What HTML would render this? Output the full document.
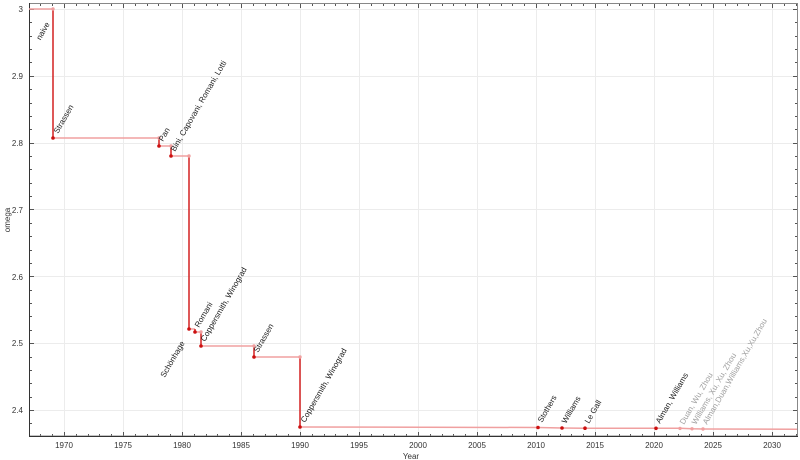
<!DOCTYPE html>
<html><head><meta charset="utf-8"><style>
html,body{margin:0;padding:0;background:#fff;}
svg{display:block;font-family:"Liberation Sans","DejaVu Sans",sans-serif;}
</style></head><body>
<svg id="s" width="800" height="460" viewBox="0 0 800 460">
<g id="grid" stroke="#ececec" stroke-width="1"></g>
<g id="ticks" stroke="#555" stroke-width="1"></g>
<rect x="29.5" y="3.5" width="768" height="432.5" fill="none" stroke="#888" stroke-width="1"/>
<line x1="29.5" y1="3" x2="29.5" y2="436" stroke="#333"/>
<line x1="29" y1="436.5" x2="798" y2="436.5" stroke="#333"/>
<g font-size="8" fill="#333" text-anchor="end">
<text x="23" y="12">3</text>
<text x="23" y="79">2.9</text>
<text x="23" y="146">2.8</text>
<text x="23" y="213">2.7</text>
<text x="23" y="280">2.6</text>
<text x="23" y="346">2.5</text>
<text x="23" y="413">2.4</text>
</g>
<g font-size="8" fill="#333" text-anchor="middle">
<text x="64" y="448">1970</text><text x="123" y="448">1975</text><text x="182" y="448">1980</text>
<text x="241" y="448">1985</text><text x="300" y="448">1990</text><text x="359" y="448">1995</text>
<text x="418" y="448">2000</text><text x="477" y="448">2005</text><text x="536" y="448">2010</text>
<text x="595" y="448">2015</text><text x="654" y="448">2020</text><text x="713" y="448">2025</text>
<text x="772" y="448">2030</text>
<text x="411" y="459">Year</text>
</g>
<text transform="translate(10,220) rotate(-90)" font-size="8" fill="#333" text-anchor="middle">omega</text>
<g stroke="#f0a0a0" stroke-width="1.5" fill="none">
<line x1="29" y1="9" x2="53" y2="9"/>
<line x1="53" y1="138" x2="159" y2="138"/>
<line x1="159" y1="146" x2="171" y2="146"/>
<line x1="171" y1="156" x2="189" y2="156"/>
<line x1="189" y1="329" x2="195" y2="329"/>
<line x1="195" y1="332" x2="201" y2="332"/>
<line x1="201" y1="346" x2="254" y2="346"/>
<line x1="254" y1="357" x2="300" y2="357"/>
<polyline points="300,427 538,427.5 562,428 585,428.2 680,428.3 692,428.8 703,429 797,429.2"/>
</g>
<g stroke="#d42020" stroke-width="1.5" fill="none">
<line x1="53" y1="9" x2="53" y2="138"/>
<line x1="159" y1="138" x2="159" y2="146"/>
<line x1="171" y1="146" x2="171" y2="156"/>
<line x1="189" y1="156" x2="189" y2="329"/>
<line x1="195" y1="329" x2="195" y2="332"/>
<line x1="201" y1="332" x2="201" y2="346"/>
<line x1="254" y1="346" x2="254" y2="357"/>
<line x1="300" y1="357" x2="300" y2="427"/>
</g>
<g fill="#f0a0a0">
<circle cx="53" cy="9" r="1.7"/><circle cx="159" cy="138" r="1.7"/><circle cx="171" cy="146" r="1.7"/>
<circle cx="189" cy="156" r="1.7"/><circle cx="201" cy="332" r="1.7"/><circle cx="254" cy="346" r="1.7"/>
<circle cx="300" cy="357" r="1.7"/><circle cx="680" cy="428.4" r="1.7"/><circle cx="692" cy="428.8" r="1.7"/><circle cx="703" cy="429" r="1.7"/>
</g>
<g fill="#cc1010">
<circle cx="53" cy="138" r="1.8"/><circle cx="159" cy="146" r="1.8"/><circle cx="171" cy="156" r="1.8"/>
<circle cx="189" cy="329" r="1.8"/><circle cx="195" cy="332" r="1.8"/><circle cx="201" cy="346" r="1.8"/>
<circle cx="254" cy="357" r="1.8"/><circle cx="300" cy="427" r="1.8"/><circle cx="538" cy="427.5" r="1.8"/>
<circle cx="562" cy="428" r="1.8"/><circle cx="585" cy="428.2" r="1.8"/><circle cx="656" cy="428.3" r="1.8"/>
</g>
<g font-size="8" fill="#222">
<text transform="translate(50,24) rotate(-60)" text-anchor="end">naive</text>
<text transform="translate(58,134) rotate(-60)">Strassen</text>
<text transform="translate(163,142) rotate(-60)">Pan</text>
<text transform="translate(175,152) rotate(-60)">Bini, Capovani, Romani, Lotti</text>
<text transform="translate(185,343) rotate(-60)" text-anchor="end">Schönhage</text>
<text transform="translate(199,328) rotate(-60)">Romani</text>
<text transform="translate(205,342) rotate(-60)">Coppersmith, Winograd</text>
<text transform="translate(258,353) rotate(-60)">Strassen</text>
<text transform="translate(305,423) rotate(-60)">Coppersmith, Winograd</text>
<text transform="translate(542,423) rotate(-60)">Stothers</text>
<text transform="translate(566,424) rotate(-60)">Williams</text>
<text transform="translate(589,424) rotate(-60)">Le Gall</text>
<text transform="translate(660,424) rotate(-60)">Alman, Williams</text>
</g>
<g font-size="8" fill="#a0a0a0">
<text transform="translate(684,425) rotate(-60)">Duan, Wu, Zhou</text>
<text transform="translate(696,425) rotate(-60)">Williams, Xu, Xu, Zhou</text>
<text transform="translate(707,425) rotate(-60)">Alman,Duan,Williams,Xu,Xu,Zhou</text>
</g>
</svg>
<script>
(function(){
var ns="http://www.w3.org/2000/svg",g=document.getElementById('grid'),t=document.getElementById('ticks');
function L(p,x1,y1,x2,y2){var l=document.createElementNS(ns,'line');l.setAttribute('x1',x1);l.setAttribute('y1',y1);l.setAttribute('x2',x2);l.setAttribute('y2',y2);p.appendChild(l);}
for(var yr=1967;yr<=2032;yr++){var x=Math.round(64+(yr-1970)*11.8)+0.5;if(x<30||x>797)continue;var maj=yr%5==0;
if(maj)L(g,x,4,x,436);var h=maj?4:2;L(t,x,436,x,436-h);L(t,x,4,x,4+h);}
for(var i=0;i<=32;i++){var v=2.36+i*0.02;var y=Math.round(9+(3-v)*668.3)+0.5;if(y<4||y>436)continue;var maj=(i%5==2);
if(maj)L(g,30,y,797,y);var h=maj?4:2;L(t,30,y,30+h,y);L(t,797,y,797-h,y);}
})();
</script>
</body></html>
